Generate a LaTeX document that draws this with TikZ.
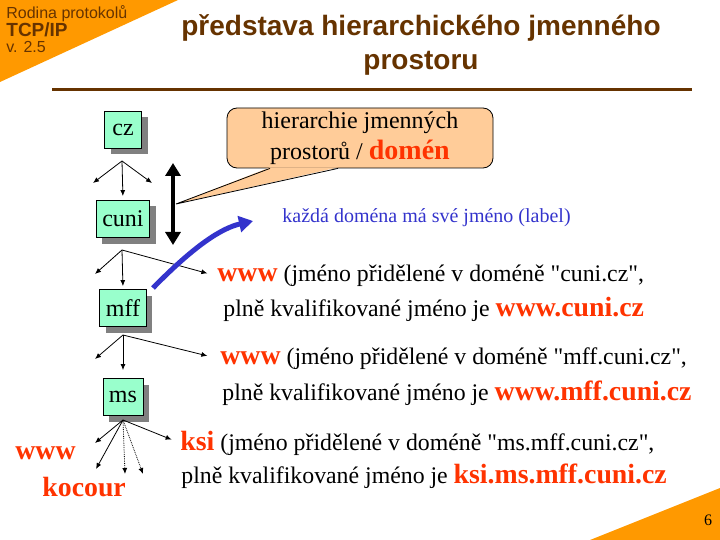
\documentclass[tikz,border=0pt]{standalone}
\usepackage{fontspec}
\setmainfont{Liberation Serif}
\setsansfont{Liberation Sans}
\usetikzlibrary{arrows,arrows.meta,shadows,positioning,calc}
\definecolor{slidebrown}{RGB}{102,51,0}
\definecolor{slideorange}{RGB}{255,153,0}
\definecolor{namered}{RGB}{255,51,0}
\definecolor{boxgreen}{RGB}{153,255,204}
\definecolor{calloutfill}{RGB}{255,204,153}
\definecolor{labelblue}{RGB}{51,51,204}
\newcommand{\rname}[1]{{\color{namered}\fontsize{27.8}{27.8}\selectfont\bfseries #1}}
\newcommand{\qd}{\textquotedbl}
\tikzset{dombox/.style={draw,fill=boxgreen,minimum height=37pt,minimum width=37pt,inner xsep=6pt,font=\fontsize{24}{24}\selectfont,drop shadow={shadow xshift=6pt,shadow yshift=-6pt,fill=black!50,opacity=1}}}
\tikzset{nametext/.style={anchor=west,inner sep=0pt,font=\fontsize{23.8}{23.8}\selectfont}}

\begin{document}
\begin{tikzpicture}[x=1pt, y=-1pt, >={Latex[length=6pt,width=5pt]}, line width=0.8pt, node distance=89pt]
\useasboundingbox (0,0) rectangle (720,540);
% slide frame
\fill[slideorange] (0,0) -- (178,0) -- (0,82) -- cycle;
\fill[slideorange] (590,540) -- (720,540) -- (720,488) -- cycle;
\node[anchor=base west, inner sep=0pt, text=slidebrown, font=\sffamily\fontsize{16}{16}\selectfont] (series) at (6,19) {Rodina protokolů};
\node[anchor=base west, inner sep=0pt, text=slidebrown, font=\sffamily\bfseries\fontsize{19}{19}\selectfont] (course) at (6,37) {TCP/IP};
\node[anchor=base west, inner sep=0pt, text=slidebrown, font=\sffamily\fontsize{16}{16}\selectfont] (version) at (6,53) {v. 2.5};
\node[align=center, text=slidebrown, font=\sffamily\bfseries\fontsize{28}{34}\selectfont] (title) at (421,45) {představa hierarchického jmenného\\prostoru};
\draw[slidebrown, line width=3pt] (52,90) -- (692,90);
\node[font=\fontsize{16}{16}\selectfont] (pagenum) at (708,520) {6};

% domain tree
\node[dombox] (cz) at (123,130) {cz};
\node[dombox][below of=cz] (cuni) {cuni};
\node[dombox][below of=cuni] (mff) {mff};
\node[dombox][below of=mff] (ms) {ms};

\coordinate (czfork) at (122,161);
\coordinate (czleft) at (93,183);
\coordinate (czright) at (152,183);
\coordinate (cunifork) at (122,250);
\coordinate (cunileft) at (95,274);
\coordinate (mfffork) at (123,335);
\coordinate (mffleft) at (95,359);
\coordinate (msfork) at (123,420);
\coordinate (msleft) at (95,443);
\coordinate (msdown) at (96,469);
\coordinate (msdotA) at (125,474);
\coordinate (msdotB) at (143,474);

% labels
\node[nametext] (wwwcuni) at (217,276) {\rname{www} (jméno přidělené v doméně \qd cuni.cz\qd,};
\node[nametext] (fqcuni) at (223,309) {plně kvalifikované jméno je \rname{www.cuni.cz}};
\node[nametext] (wwwmff) at (220,359) {\rname{www} (jméno přidělené v doméně \qd mff.cuni.cz\qd,};
\node[nametext] (fqmff) at (222,393) {plně kvalifikované jméno je \rname{www.mff.cuni.cz}};
\node[nametext] (ksims) at (180,443) {\rname{ksi} (jméno přidělené v doméně \qd ms.mff.cuni.cz\qd,};
\node[nametext] (fqms) at (181,476) {plně kvalifikované jméno je \rname{ksi.ms.mff.cuni.cz}};
\node[anchor=west, inner sep=0pt] (wwwleaf) at (15,453) {\rname{www}};
\node[anchor=west, inner sep=0pt] (kocour) at (42,487) {\rname{kocour}};

\path[->](czfork) edge (czleft)
	edge [shorten >=4pt] (cuni.north)
	edge (czright)
(cunifork) edge (cunileft)
	edge [shorten >=3pt] (mff.north)
	edge [shorten >=10pt] (wwwcuni.west)
(mfffork) edge (mffleft)
	edge [shorten >=8pt] (ms.north)
	edge [shorten >=13pt] (wwwmff.west)
(msfork) edge (msleft)
	edge (msdown)
	edge [densely dotted] (msdotA)
	edge [densely dotted] (msdotB)
	edge [shorten >=9pt] (ksims.west);

% callout
\node[draw, fill=calloutfill, rounded corners=10pt, minimum width=266pt, minimum height=60pt, align=center, font=\fontsize{24}{31}\selectfont] (callout) at (360,138) {hierarchie jmenných\\prostorů / {\color{namered}\fontsize{28}{31}\selectfont\bfseries domén}};
\coordinate (hiertop) at (173,163);
\coordinate (hierbot) at (173,245);
\coordinate (hiermid) at (176,204);
\draw[{Triangle[length=13pt,width=15pt]}-{Triangle[length=13pt,width=15pt]}, line width=4.5pt] (hiertop) -- (hierbot);
\fill[calloutfill] ([xshift=-90pt,yshift=1pt]callout.south) -- (hiermid) -- ([xshift=-22pt,yshift=1pt]callout.south) -- cycle;
\draw ([xshift=-90pt]callout.south) -- (hiermid) -- ([xshift=-22pt]callout.south);

% label arrow
\node[anchor=west, inner sep=0pt, text=labelblue, font=\fontsize{20}{20}\selectfont] (labeltext) at (282,218) {každá doména má své jméno (label)};
\coordinate (bluestart) at (153,288);
\coordinate (blueend) at (253,221);
\draw[labelblue, line width=5pt, -{Triangle[length=14pt,width=16pt]}] (bluestart) .. controls (195,245) and (222,228) .. (blueend);
\end{tikzpicture}
\end{document}
